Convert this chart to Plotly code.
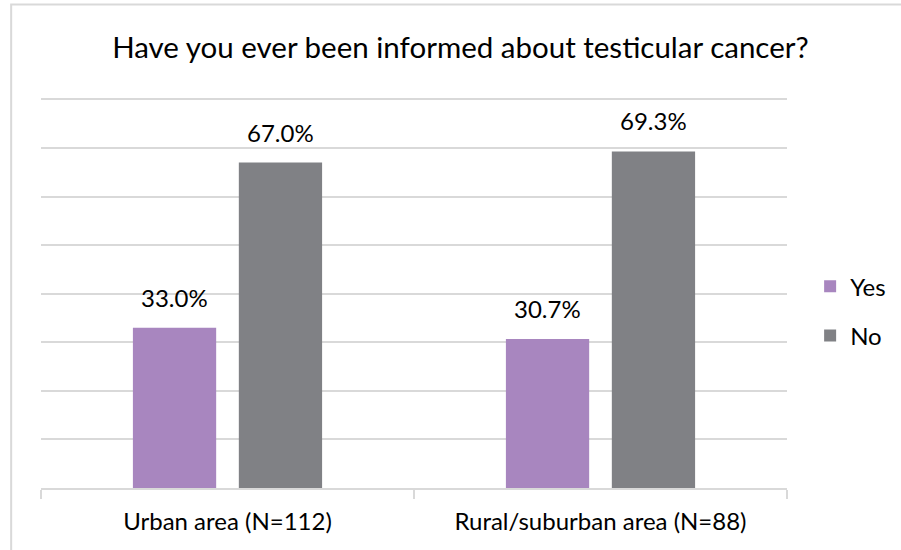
import plotly.graph_objects as go

categories = ["Urban area (N=112)", "Rural/suburban area (N=88)"]
series_names = ["Yes", "No"]
yes_values = [0.330, 0.307]
no_values = [0.670, 0.693]
colors = ["#A886BF", "#808185"]
title_text = "Have you ever been informed about testicular cancer?"

FONT = "Lato, Carlito, sans-serif"
TXT = "#000000"

fig = go.Figure()
for name, vals, col, grp in zip(series_names, [yes_values, no_values], colors, ["g1", "g2"]):
    fig.add_trace(go.Bar(
        x=categories, y=vals, name=name, marker=dict(color=col, line=dict(width=0)),
        legendgroup=grp, hoverinfo="skip"))

# data labels above bars
shifts = [-53, 53]
for vals, xs in zip([yes_values, no_values], shifts):
    for c, v in zip(categories, vals):
        fig.add_annotation(x=c, y=v, text=f"{v*100:.1f}%", showarrow=False,
                           xshift=xs, yshift=14, yanchor="bottom",
                           font=dict(family=FONT, size=24, color=TXT))

fig.update_layout(
    width=901, height=550,
    margin=dict(l=41, r=114, t=97, b=62, autoexpand=False),
    paper_bgcolor="white", plot_bgcolor="white",
    barmode="group", bargap=0.432, bargroupgap=0.214,
    title=dict(text=title_text, x=0.511, xanchor="center", y=0.913, yanchor="middle",
               font=dict(family=FONT, size=29.5, color=TXT)),
    showlegend=True,
    legend=dict(x=1.031, xanchor="left", y=0.452, yanchor="middle",
                font=dict(family=FONT, size=24, color=TXT),
                tracegroupgap=15, itemclick=False, bgcolor="rgba(0,0,0,0)"),
    font=dict(family=FONT, color=TXT),
)
fig.update_xaxes(type="category", showgrid=False, showline=True, linecolor="#D9D9D9", linewidth=2,
                 ticks="outside", tickson="boundaries", ticklen=9, tickcolor="#D9D9D9", tickwidth=2,
                 ticklabelstandoff=11,
                 tickfont=dict(family=FONT, size=24, color=TXT), fixedrange=True)
fig.update_yaxes(range=[0, 0.805], tick0=0, dtick=0.1, showgrid=True, gridcolor="#D9D9D9", gridwidth=2,
                 showticklabels=False, zeroline=False, showline=False, ticks="", fixedrange=True)

# chart outer border (only top/left visible in original crop)
fig.add_shape(type="rect", xref="paper", yref="paper", x0=-0.04, x1=2, y0=-1, y1=1.2365,
              line=dict(color="#D9D9D9", width=2), fillcolor="rgba(0,0,0,0)", layer="below")

fig.write_html("out.html", config={"displayModeBar": False, "staticPlot": True},
               post_script="document.body.style.margin='0';document.body.style.overflow='hidden';")
